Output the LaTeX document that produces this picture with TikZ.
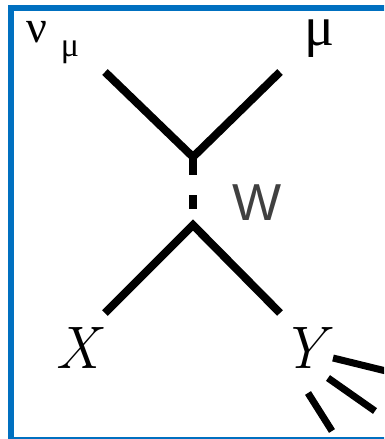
\documentclass[tikz,border=0pt]{standalone}
\usepackage{fontspec}
\newfontfamily\grkfont{Liberation Serif}
\newfontfamily\wfont{Liberation Sans}
\definecolor{frameblue}{HTML}{0070C0}
\begin{document}
\begin{tikzpicture}[x=1pt, y=-1pt,
  leg/.style={line width=8pt, black},
  jet/.style={line width=7pt, black},
  lbl/.style={inner sep=0pt, anchor=base},
  grk/.style={lbl, font=\grkfont\fontsize{56}{60}\selectfont},
  sub/.style={lbl, font=\grkfont\fontsize{34}{36}\selectfont},
  boson/.style={lbl, font=\wfont\fontsize{52}{56}\selectfont, text=black!75},
  part/.style={lbl, font=\fontsize{60}{62}\selectfont\itshape}
]
  \clip (0,0) rectangle (384,439);
  \draw[frameblue, line width=6pt] (11,8) rectangle (392,440);

  % vertices and line ends
  \coordinate (vtop) at (193,157);
  \coordinate (vbot) at (193,225);
  \coordinate (nuend) at (105,72);
  \coordinate (muend) at (280,72);
  \coordinate (xend) at (105,313);
  \coordinate (yend) at (280,313);
  \coordinate (wa) at (193,175);
  \coordinate (wb) at (193,195);
  \coordinate (wc) at (193,209);

  % labels
  \node[grk, font=\grkfont\fontsize{46}{50}\selectfont] (nu) at (37,42) {ν};
  \node[sub] (nusub) at (70,56) {μ};
  \node[grk] (mu) at (320,45) {μ};
  \node[boson] (w) at (257,220) {W};
  \node[part] (x) at (77,368) {X};
  \node[part] (y) at (303,368) {Y};

  % lepton legs
  \draw[leg] (nuend) -- (vtop) -- (muend);
  \draw[leg] (vtop) -- (wa);
  \draw[leg] (wb) -- (wc);
  % hadron legs
  \draw[leg] (xend) -- (vbot) -- (yend);

  % spray from Y
  \coordinate (ja1) at (333,358);
  \coordinate (jb1) at (386,371);
  \coordinate (ja2) at (328,378);
  \coordinate (jb2) at (375,411);
  \coordinate (ja3) at (308,393);
  \coordinate (jb3) at (332,431);
  \foreach \i in {1,2,3}
    \draw[jet] (ja\i) -- (jb\i);
\end{tikzpicture}
\end{document}
